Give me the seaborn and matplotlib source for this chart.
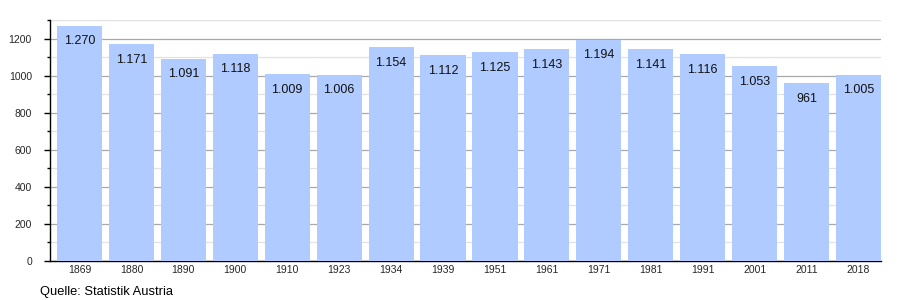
import matplotlib
matplotlib.use("Agg")
import matplotlib.pyplot as plt
import seaborn as sns
import pandas as pd
from matplotlib.ticker import MultipleLocator

years = ["1869", "1880", "1890", "1900", "1910", "1923", "1934", "1939",
         "1951", "1961", "1971", "1981", "1991", "2001", "2011", "2018"]
population = [1270, 1171, 1091, 1118, 1009, 1006, 1154, 1112,
              1125, 1143, 1194, 1141, 1116, 1053, 961, 1005]

df = pd.DataFrame({"year": years, "pop": population})

sns.set_theme(style="white")
plt.rcParams["font.family"] = ["Liberation Sans", "DejaVu Sans"]

fig = plt.figure(figsize=(9, 3), dpi=100)
ax = fig.add_axes([50/900, 1-261/300, (881-50)/900, (261-20)/300])

sns.barplot(data=df, x="year", y="pop", order=years, color="#b0cbff",
            saturation=1, width=0.87, ax=ax, zorder=3)
for p in ax.patches:
    p.set_edgecolor("none")

ax.set_ylim(0, 1300)
ax.set_xlim(-0.568, 15.433)
ax.yaxis.set_major_locator(MultipleLocator(200))
ax.yaxis.set_minor_locator(MultipleLocator(100))
ax.grid(which="major", axis="y", color="#a8a8a8", linewidth=0.9, zorder=0)
ax.grid(which="minor", axis="y", color="#e2e2e2", linewidth=0.9, zorder=0)
ax.axhline(1300, color="#e2e2e2", linewidth=0.9, zorder=0)
ax.set_axisbelow(True)

for s in ["top", "right"]:
    ax.spines[s].set_visible(False)
ax.spines["left"].set_color("black")
ax.spines["bottom"].set_color("black")
ax.spines["left"].set_linewidth(1)
ax.spines["bottom"].set_linewidth(1)

ax.tick_params(axis="y", which="major", direction="out", length=4, width=1,
               color="black", labelsize=7.5, left=True, pad=9)
ax.tick_params(axis="y", which="minor", direction="out", length=2, width=1,
               color="black", left=True)
ax.tick_params(axis="x", which="major", length=0, labelsize=7.5, pad=3)
ax.set_xlabel("")
ax.set_ylabel("")

for i, v in enumerate(population):
    label = f"{v:,}".replace(",", ".")
    ax.annotate(label, (i, v), xytext=(0, -7), textcoords="offset points",
                ha="center", va="top", fontsize=9, color="#111111", zorder=5)

fig.text(40/900, 1-292/300, "Quelle: Statistik Austria", fontsize=9.3,
         ha="left", va="center", color="black")

fig.savefig("out.png", dpi=100)
